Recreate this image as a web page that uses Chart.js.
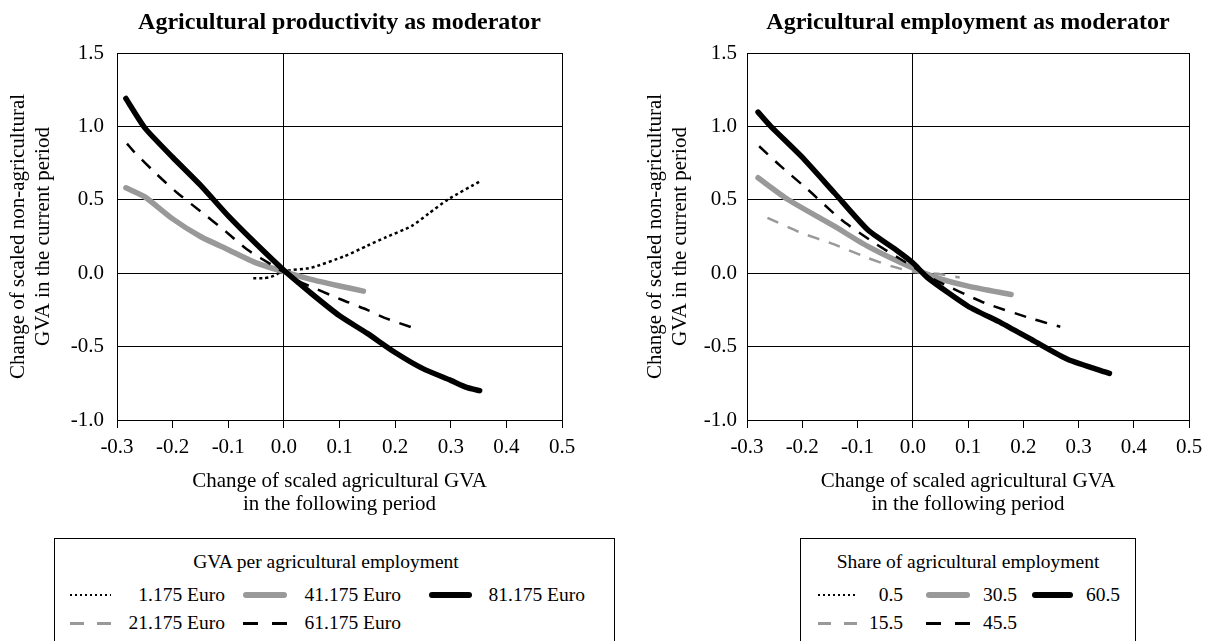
<!DOCTYPE html>
<html><head><meta charset="utf-8">
<script src="https://cdn.jsdelivr.net/npm/chart.js@4.4.1/dist/chart.umd.min.js"></script>
<style>
html,body{margin:0;padding:0;background:#fff;width:1211px;height:641px;overflow:hidden;font-family:"Liberation Serif","Times New Roman",serif;color:#000}
.wrap{position:absolute;top:0;height:530px}
.box{position:absolute;border:1px solid #000;border-bottom:none;box-sizing:border-box;background:#fff}
.lt{position:absolute;text-align:center;font-size:19.5px;line-height:22px;white-space:nowrap}
.sw{position:absolute}
.tx{position:absolute;text-align:right;font-size:19.5px;line-height:22px;white-space:nowrap;width:200px}
</style></head>
<body>
<div class="wrap" id="wrapA" style="left:0;width:600px"><canvas id="cA"></canvas></div>
<div class="wrap" id="wrapB" style="left:600px;width:611px"><canvas id="cB"></canvas></div>
<div id="legA"></div>
<div id="legB"></div>
<script>
// ---------- Titles / labels ----------
const titleLeft = 'Agricultural productivity as moderator';
const titleRight = 'Agricultural employment as moderator';
const xAxisTitle = ['Change of scaled agricultural GVA', 'in the following period'];
const yAxisTitle = ['Change of scaled non-agricultural', 'GVA in the current period'];
const legendTitleLeft = 'GVA per agricultural employment';
const legendTitleRight = 'Share of agricultural employment';
const legendLabelsLeft = ['1.175 Euro', '21.175 Euro', '41.175 Euro', '61.175 Euro', '81.175 Euro'];
const legendLabelsRight = ['0.5', '15.5', '30.5', '45.5', '60.5'];
const xTicks = [-0.3, -0.2, -0.1, 0.0, 0.1, 0.2, 0.3, 0.4, 0.5];
const yTicks = [-1.0, -0.5, 0.0, 0.5, 1.0, 1.5];

// ---------- Left panel data (GVA per agricultural employment) ----------
const lx_1175 = [-0.055, -0.035, -0.023, 0.0, 0.049, 0.109, 0.15, 0.181, 0.229, 0.26, 0.295, 0.353];
const ly_1175 = [-0.034, -0.034, -0.025, 0.014, 0.037, 0.116, 0.187, 0.241, 0.32, 0.405, 0.502, 0.627];
const lx_21175 = [];
const ly_21175 = [];
const lx_41175 = [-0.284, -0.25, -0.2, -0.15, -0.1, -0.05, 0.0, 0.05, 0.1, 0.143];
const ly_41175 = [0.582, 0.52, 0.37, 0.25, 0.16, 0.07, 0.01, -0.044, -0.087, -0.122];
const lx_61175 = [-0.282, -0.27, -0.228, -0.192, -0.15, -0.105, -0.066, -0.018, 0.03, 0.103, 0.15, 0.181, 0.232];
const ly_61175 = [0.883, 0.83, 0.672, 0.548, 0.422, 0.286, 0.161, 0.048, -0.06, -0.179, -0.25, -0.304, -0.372];
const lx_81175 = [-0.284, -0.25, -0.2, -0.15, -0.1, -0.05, 0.0, 0.05, 0.1, 0.15, 0.2, 0.25, 0.3, 0.33, 0.352];
const ly_81175 = [1.19, 0.99, 0.79, 0.6, 0.39, 0.2, 0.02, -0.14, -0.29, -0.41, -0.54, -0.65, -0.73, -0.78, -0.8];

// ---------- Right panel data (Share of agricultural employment) ----------
const rx_05 = [];
const ry_05 = [];
const rx_155 = [-0.263, -0.202, -0.142, -0.082, -0.039, 0.0, 0.045, 0.085];
const ry_155 = [0.377, 0.275, 0.196, 0.105, 0.048, 0.01, -0.004, -0.03];
const rx_305 = [-0.28, -0.226, -0.142, -0.082, -0.021, 0.039, 0.1, 0.178];
const ry_305 = [0.65, 0.502, 0.32, 0.184, 0.071, -0.025, -0.088, -0.145];
const rx_455 = [-0.278, -0.239, -0.19, -0.13, -0.07, -0.021, 0.039, 0.13, 0.22, 0.267];
const ry_455 = [0.865, 0.729, 0.57, 0.366, 0.207, 0.093, -0.043, -0.202, -0.315, -0.365];
const rx_605 = [-0.28, -0.257, -0.202, -0.142, -0.082, -0.027, 0.0, 0.027, 0.1, 0.16, 0.22, 0.281, 0.356];
const ry_605 = [1.097, 1.0, 0.797, 0.548, 0.298, 0.15, 0.071, -0.031, -0.225, -0.338, -0.463, -0.588, -0.683];

// ---------- Styles (order: dotted, gray dashed, gray thick, black dashed, black thick) ----------
const seriesStyles = [
  {color: '#000', width: 2.5, dash: [3, 3], cap: 'butt'},
  {color: '#999', width: 2.5, dash: [12, 10], cap: 'butt'},
  {color: '#999', width: 5.5, dash: [], cap: 'round'},
  {color: '#000', width: 2.5, dash: [12, 10], cap: 'butt'},
  {color: '#000', width: 5.5, dash: [], cap: 'round'}
];

const FONT = '"Liberation Serif", "Times New Roman", serif';
Chart.defaults.color = '#000';
Chart.defaults.font.family = FONT;

function pts(xs, ys) { return xs.map((x, i) => ({x: x, y: ys[i]})); }
function fmt(v) { return Math.abs(v) < 1e-9 ? '0.0' : Number(v).toFixed(1); }

function makeChart(id, title, series, labels, cfg) {
  const datasets = series.map((s, i) => ({
    label: labels[i],
    data: pts(s[0], s[1]),
    borderColor: seriesStyles[i].color,
    borderWidth: seriesStyles[i].width,
    borderDash: seriesStyles[i].dash,
    borderCapStyle: seriesStyles[i].cap,
    borderJoinStyle: 'round',
    pointRadius: 0,
    fill: false,
    tension: 0.2,
    order: 5 - i
  }));
  return new Chart(document.getElementById(id), {
    type: 'line',
    data: {datasets: datasets},
    options: {
      responsive: true,
      maintainAspectRatio: false,
      animation: false,
      layout: {padding: {left: 0, right: cfg.padRight, top: 0, bottom: 0}},
      plugins: {
        legend: {display: false},
        tooltip: {enabled: false},
        title: {display: true, text: title, fullSize: false, color: '#000',
                font: {family: FONT, size: 24, weight: 'bold', lineHeight: 1.2}, padding: {top: 8.6, bottom: 15.6}}
      },
      scales: {
        x: {
          type: 'linear', min: xTicks[0], max: xTicks[xTicks.length - 1],
          afterBuildTicks: (s) => { s.ticks = xTicks.map(v => ({value: v})); },
          afterFit: (s) => { s.height = 110; },
          ticks: {callback: fmt, font: {family: FONT, size: 21}, color: '#000', padding: 7, maxRotation: 0, autoSkip: false},
          grid: {
            color: (c) => (c.tick && (Math.abs(c.tick.value) < 1e-9 || Math.abs(c.tick.value - 0.5) < 1e-9)) ? '#000' : 'rgba(0,0,0,0)',
            tickColor: '#000', tickLength: 8, lineWidth: 1, drawTicks: true
          },
          border: {display: true, color: '#000', width: 1},
          title: {display: true, text: xAxisTitle, color: '#000',
                  font: {family: FONT, size: 21, lineHeight: 23 / 21}, padding: {top: 4, bottom: 14.5}}
        },
        y: {
          type: 'linear', min: yTicks[0], max: yTicks[yTicks.length - 1],
          afterBuildTicks: (s) => { s.ticks = yTicks.map(v => ({value: v})); },
          afterFit: (s) => { s.width = cfg.yWidth; },
          ticks: {callback: fmt, font: {family: FONT, size: 21}, color: '#000', padding: cfg.tickPad},
          grid: {color: '#000', lineWidth: 1, drawTicks: false},
          border: {display: true, color: '#000', width: 1},
          title: {display: true, text: yAxisTitle, color: '#000',
                  font: {family: FONT, size: 21, lineHeight: 25 / 21}, padding: {top: cfg.yTitlePad, bottom: 0}}
        }
      }
    }
  });
}

makeChart('cA', titleLeft,
  [[lx_1175, ly_1175], [lx_21175, ly_21175], [lx_41175, ly_41175], [lx_61175, ly_61175], [lx_81175, ly_81175]],
  legendLabelsLeft, {padRight: 38, yWidth: 117, tickPad: 13, yTitlePad: 6});
makeChart('cB', titleRight,
  [[rx_05, ry_05], [rx_155, ry_155], [rx_305, ry_305], [rx_455, ry_455], [rx_605, ry_605]],
  legendLabelsRight, {padRight: 22, yWidth: 147, tickPad: 10, yTitlePad: 43});

// ---------- HTML legends ----------
function buildLegend(hostId, box, title, labels, cols, rows) {
  const host = document.getElementById(hostId);
  const b = document.createElement('div');
  b.className = 'box';
  b.style.left = box.left + 'px'; b.style.top = box.top + 'px';
  b.style.width = box.width + 'px'; b.style.height = '120px';
  host.appendChild(b);
  const t = document.createElement('div');
  t.className = 'lt'; t.textContent = title;
  t.style.left = (box.titleCenter - 200) + 'px'; t.style.width = '400px'; t.style.top = (box.titleY - 11) + 'px';
  host.appendChild(t);
  labels.forEach((lab, i) => {
    const col = Math.floor(i / 2), row = i % 2;
    const st = seriesStyles[i];
    const c = cols[col];
    const y = rows[row];
    const sw = document.createElement('div');
    sw.className = 'sw';
    const w = c.s1 - c.s0;
    sw.style.left = c.s0 + 'px'; sw.style.width = w + 'px';
    if (st.dash.length === 0) {
      sw.style.height = st.width + 'px'; sw.style.top = (y - st.width / 2) + 'px';
      sw.style.background = st.color; sw.style.borderRadius = '3px';
    } else if (st.dash[0] <= 3) {
      sw.style.height = '2px'; sw.style.top = (y - 1) + 'px';
      sw.style.background = 'repeating-linear-gradient(to right,' + st.color + ' 0 2.5px, transparent 2.5px 5px)';
    } else {
      const d = Math.round(w / 3);
      sw.style.height = '3px'; sw.style.top = (y - 1.5) + 'px';
      sw.style.background = 'linear-gradient(to right,' + st.color + ' 0 ' + d + 'px, transparent ' + d + 'px ' + (w - d) + 'px,' + st.color + ' ' + (w - d) + 'px ' + w + 'px)';
    }
    host.appendChild(sw);
    const tx = document.createElement('div');
    tx.className = 'tx'; tx.textContent = lab;
    tx.style.left = (c.tr - 200) + 'px'; tx.style.top = (y - 11) + 'px';
    host.appendChild(tx);
  });
}
buildLegend('legA', {left: 54, top: 538, width: 561, titleCenter: 326, titleY: 562}, legendTitleLeft, legendLabelsLeft,
  [{s0: 70, s1: 111, tr: 225}, {s0: 243, s1: 287, tr: 401}, {s0: 429, s1: 472, tr: 585}], [595, 623]);
buildLegend('legB', {left: 800, top: 538, width: 336, titleCenter: 968, titleY: 562}, legendTitleRight, legendLabelsRight,
  [{s0: 818, s1: 857, tr: 903}, {s0: 926, s1: 970, tr: 1017}, {s0: 1032, s1: 1073, tr: 1120}], [595, 623]);
</script>
</body></html>
